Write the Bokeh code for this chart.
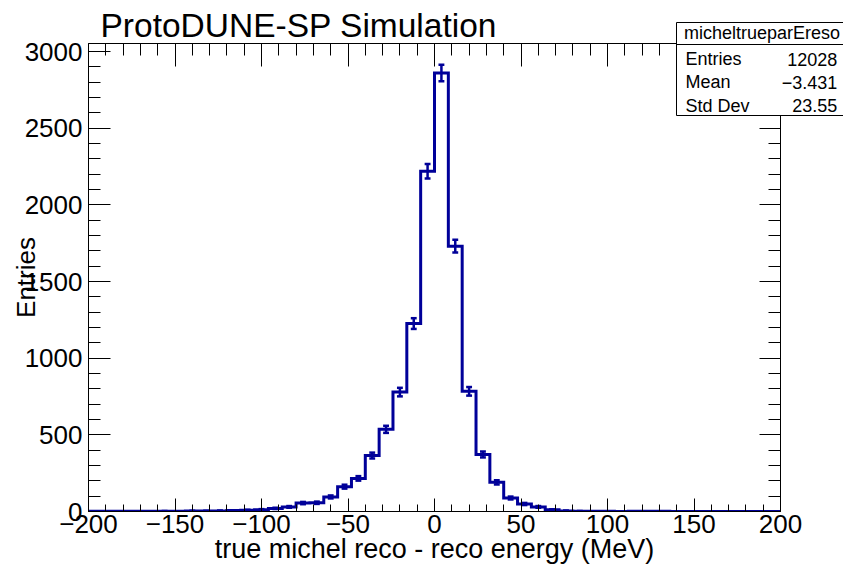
import numpy as np
from bokeh.plotting import figure
from bokeh.models import (Range1d, LinearAxis, SingleIntervalTicker,
                          CustomJSTickFormatter, ColumnDataSource)
from bokeh.core.properties import value
from bokeh.embed import file_html
from bokeh.resources import INLINE

# ---------------- data ----------------
bin_edges = list(range(-200, 201, 8))          # 50 bins of 8 MeV
counts = [1, 1, 1, 1, 1, 2, 1, 3, 3, 4,
          6, 8, 12, 20, 30, 55, 57, 95, 162, 216,
          365, 536, 779, 1226, 2219, 2861, 1731, 784, 372, 190,
          88, 49, 30, 11, 4, 2, 1, 1, 0, 1,
          1, 1, 0, 0, 0, 0, 0, 0, 0, 0]
x_ticks_major = 50
y_ticks_major = 500
title_text = "ProtoDUNE-SP Simulation"
x_title = "true michel reco - reco energy (MeV)"
y_title = "Entries"
stats_name = "micheltrueparEreso"
stats_labels = ["Entries", "Mean", "Std Dev"]
stats_values = ["12028", "\u22123.431", "23.55"]

# ---------------- derived ----------------
edges = np.array(bin_edges, dtype=float)
c = np.array(counts, dtype=float)
xs = np.repeat(edges, 2)
ys = np.concatenate([[0.0], np.repeat(c, 2), [0.0]])
centers = 0.5 * (edges[:-1] + edges[1:])
mask = c > 0
err = np.sqrt(c)
ec = centers[mask]
ev = c[mask]
ee = err[mask]

FONT = "Liberation Sans"
COL = "#000099"

W, H = 843, 571
FL, FR, FT, FB = 88, 780, 43, 511       # frame edges in pixels
X0, X1, Y0, Y1 = -200.0, 200.0, 0.0, 3053.0


def px2x(px):
    return X0 + (px - FL) * (X1 - X0) / (FR - FL)


def py2y(py):
    return Y0 + (FB - py) * (Y1 - Y0) / (FB - FT)


p = figure(width=W, height=H, output_backend="svg", toolbar_location=None,
           x_range=Range1d(X0, X1), y_range=Range1d(Y0, Y1),
           min_border_left=FL, min_border_right=W - FR, min_border_top=FT,
           min_border_bottom=H - FB, x_axis_location=None, y_axis_location=None)
p.grid.grid_line_color = None
p.outline_line_color = None
p.background_fill_color = "white"
p.border_fill_color = "white"

p.title.text = title_text
p.title.text_font = FONT
p.title.text_font_size = "33.5px"
p.title.text_font_style = "normal"
p.title.text_color = "black"
p.title.align = "left"
p.title.offset = 12
p.title.standoff = 0

minus_fmt = CustomJSTickFormatter(code="return tick < 0 ? '\\u2212' + Math.abs(tick) : String(tick);")
blank_fmt = CustomJSTickFormatter(code="return '';")


def make_axis(interval, fmt, maj_in, min_in, labels=True):
    ax = LinearAxis(ticker=SingleIntervalTicker(interval=interval, num_minor_ticks=5),
                    formatter=fmt)
    ax.major_tick_in = maj_in
    ax.major_tick_out = 0
    ax.minor_tick_in = min_in
    ax.minor_tick_out = 0
    ax.axis_line_color = "black"
    ax.major_tick_line_color = "black"
    ax.minor_tick_line_color = "black"
    ax.axis_line_width = 1
    ax.major_label_text_font = FONT
    ax.major_label_text_font_size = "26px" if labels else "1px"
    ax.major_label_text_color = "black"
    ax.axis_label_text_font = FONT
    ax.axis_label_text_font_size = "26px"
    ax.axis_label_text_font_style = "normal"
    ax.axis_label_text_color = "black"
    return ax


bottom = make_axis(x_ticks_major, minus_fmt, 13, 7)
bottom.major_label_standoff = 3
bottom.axis_label = x_title
bottom.axis_label_text_font_size = "27px"
bottom.axis_label_standoff = -2
top = make_axis(x_ticks_major, blank_fmt, 23, 12, labels=False)
top.major_label_standoff = 0
left = make_axis(y_ticks_major, minus_fmt, 22, 12)
left.major_label_standoff = 6
left.axis_label = y_title
left.axis_label_standoff = -19
right = make_axis(y_ticks_major, blank_fmt, 21, 12, labels=False)
right.major_label_standoff = 0
p.add_layout(bottom, "below")
p.add_layout(top, "above")
p.add_layout(left, "left")
p.add_layout(right, "right")

# histogram outline
p.line(xs, ys, line_color=COL, line_width=3, line_join="miter")

# error bars
src = ColumnDataSource(dict(x=ec, lo=ev - ee, hi=ev + ee, xl=ec - 1.7, xr=ec + 1.7))
p.segment(x0="x", y0="lo", x1="x", y1="hi", source=src, line_color=COL, line_width=2.5)
p.segment(x0="xl", y0="hi", x1="xr", y1="hi", source=src, line_color=COL, line_width=2.5)
p.segment(x0="xl", y0="lo", x1="xr", y1="lo", source=src, line_color=COL, line_width=2.5)

# stats box (drawn on the overlay level so it may extend past the frame)
bx_l, bx_r, bx_t, bx_b, bx_h = px2x(676), px2x(846), py2y(22), py2y(115), py2y(44)
p.quad(left=[bx_l], right=[bx_r], top=[bx_t], bottom=[bx_b], fill_color="white",
       line_color="black", line_width=1, level="overlay")
p.segment(x0=[bx_l], x1=[bx_r], y0=[bx_h], y1=[bx_h], line_color="black",
          line_width=1, level="overlay")
p.text(x=[px2x(761.5)], y=[py2y(32)], text=[stats_name], text_font=value(FONT),
       text_font_size="18px", text_color="black", text_align="center",
       text_baseline="alphabetic", level="overlay")
row_py = [58.5, 81.8, 105.2]
p.text(x=[px2x(685)] * 3, y=[py2y(v) for v in row_py], text=stats_labels,
       text_font=value(FONT), text_font_size="18px", text_color="black",
       text_align="left", text_baseline="alphabetic", level="overlay")
p.text(x=[px2x(836.7)] * 3, y=[py2y(v) for v in row_py], text=stats_values,
       text_font=value(FONT), text_font_size="18px", text_color="black",
       text_align="right", text_baseline="alphabetic", level="overlay")

open("out.html", "w").write(file_html(p, INLINE))
